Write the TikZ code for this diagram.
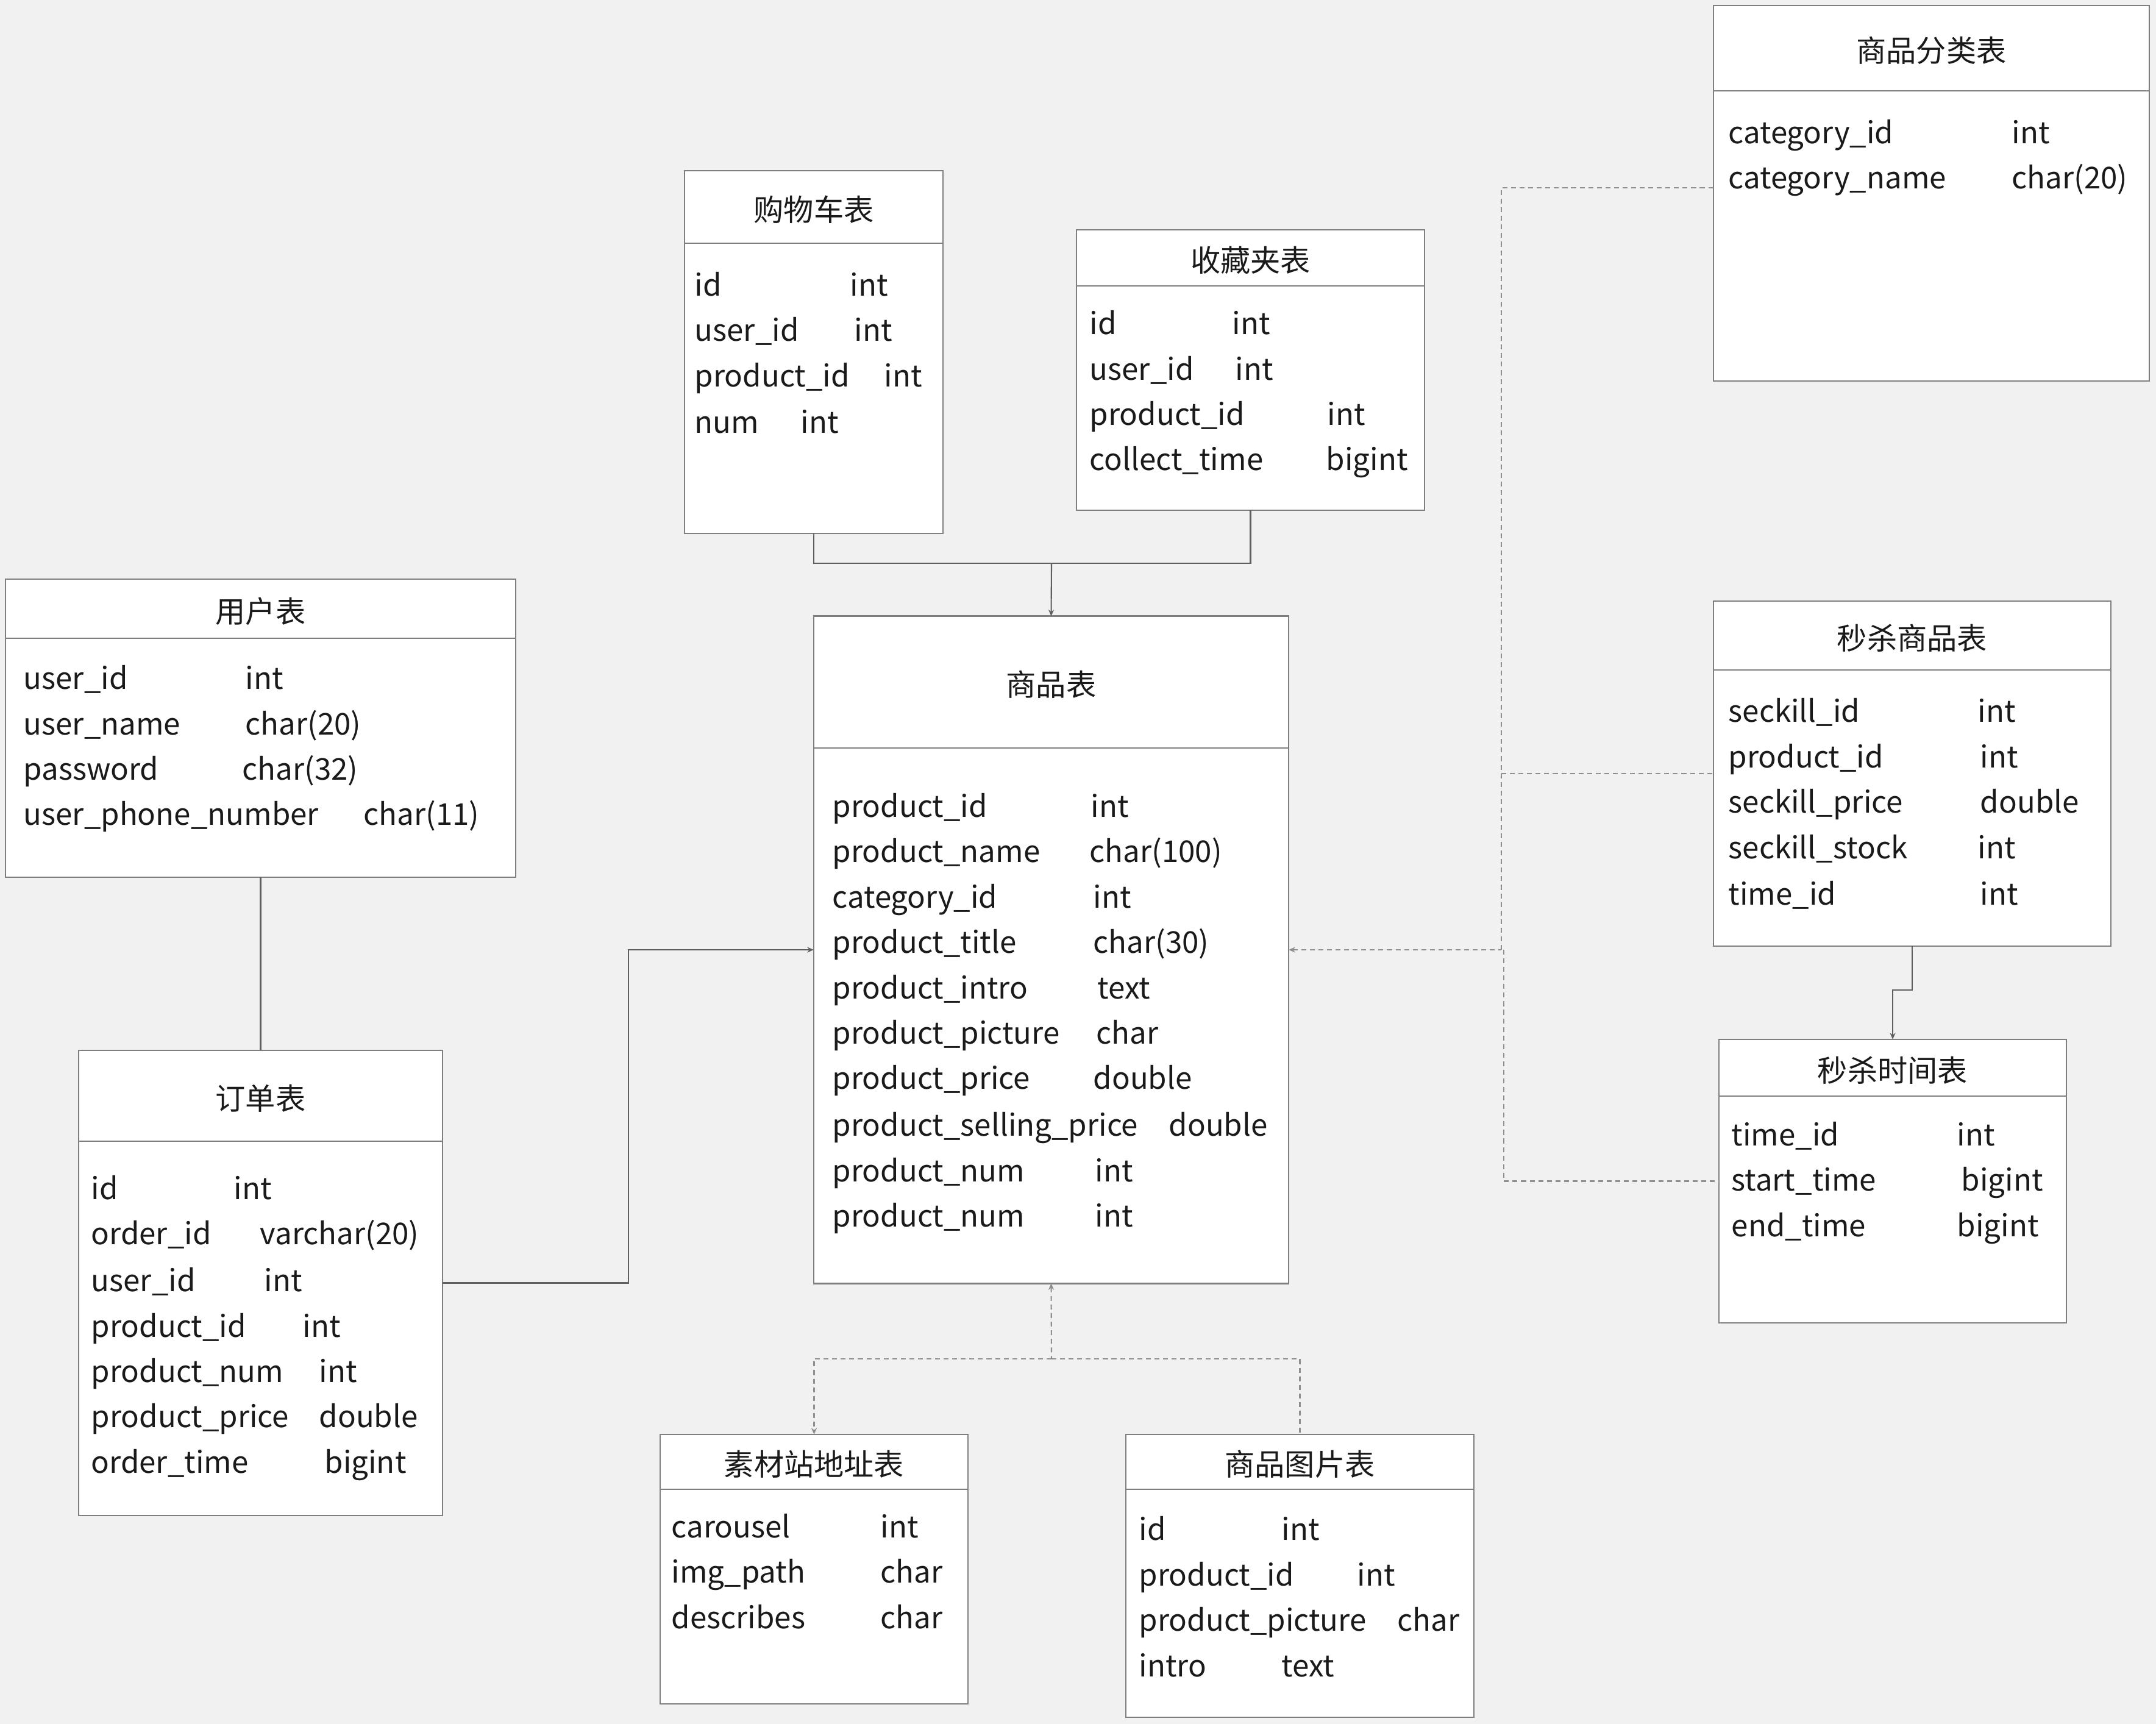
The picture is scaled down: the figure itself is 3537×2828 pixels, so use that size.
\documentclass[tikz,border=0pt]{standalone}
\usepackage{fontspec}
\setmainfont{Noto Sans CJK SC}
\usetikzlibrary{arrows.meta}
\definecolor{bgc}{HTML}{F1F1F1}
\definecolor{boxc}{HTML}{7F7F7F}
\definecolor{linec}{HTML}{5F5F5F}
\definecolor{dashc}{HTML}{8F8F8F}
\definecolor{txtc}{HTML}{1A1A1A}
\tikzset{
  tbox/.style={draw=boxc, fill=white, line width=0.7pt, rectangle, inner sep=0pt, outer sep=0pt},
  tline/.style={draw=boxc, line width=0.7pt},
  ttitle/.style={text=txtc, font=\fontsize{14pt}{16pt}\selectfont, inner sep=0pt, anchor=mid, yshift=-0.13cm},
  ftext/.style={text=txtc, font=\fontsize{14pt}{16pt}\selectfont, inner sep=0pt, anchor=mid west, yshift=-0.09cm},
  conn/.style={draw=linec, line width=0.6pt},
  dconn/.style={draw=dashc, line width=0.6pt, dash pattern=on 2.3pt off 1.7pt},
  tip/.tip={Stealth[length=3pt,width=2.6pt]}
}
\newcommand\tbl[7]{%
  \node[tbox, minimum width={(#4-#2)*0.284528pt}, minimum height={(#5-#3)*0.284528pt}] (#1) at ({(#2+#4)/2},{(#3+#5)/2}) {};
  \draw[tline] (#2,#6) -- (#4,#6);
  \node[ttitle] (#1-title) at ({(#2+#4)/2},{(#3+#6)/2}) {#7};
}
\newcommand\fld[6]{%
  \node[ftext] (#1n) at (#3,#2) {#4};
  \node[ftext] (#1t) at (#5,#2) {#6};
}
\begin{document}
\begin{tikzpicture}[x=0.01cm, y=-0.01cm]
\useasboundingbox (0,0) rectangle (3537,2828);
\fill[bgc] (0,0) rectangle (3537,2828);

% tables
\tbl{cat}{2811}{9}{3526}{625}{149}{商品分类表}
\fld{cat1}{217}{2835}{category\_id}{3300}{int}
\fld{cat2}{291}{2835}{category\_name}{3300}{char(20)}

\tbl{cart}{1123}{280}{1547}{875}{399}{购物车表}
\fld{cart1}{467}{1139}{id}{1394}{int}
\fld{cart2}{541}{1139}{user\_id}{1401}{int}
\fld{cart3}{616}{1139}{product\_id}{1450}{int}
\fld{cart4}{692}{1139}{num}{1313}{int}

\tbl{fav}{1766}{377}{2337}{837}{469}{收藏夹表}
\fld{fav1}{530}{1787}{id}{2021}{int}
\fld{fav2}{605}{1787}{user\_id}{2026}{int}
\fld{fav3}{679}{1787}{product\_id}{2177}{int}
\fld{fav4}{753}{1787}{collect\_time}{2175}{bigint}

\tbl{user}{9}{950}{846}{1439}{1047}{用户表}
\fld{user1}{1112}{38}{user\_id}{402}{int}
\fld{user2}{1187}{38}{user\_name}{402}{char(20)}
\fld{user3}{1261}{38}{password}{397}{char(32)}
\fld{user4}{1335}{38}{user\_phone\_number}{596}{char(11)}

\tbl{order}{129}{1723}{726}{2486}{1872}{订单表}
\fld{ord1}{1949}{149}{id}{383}{int}
\fld{ord2}{2023}{149}{order\_id}{426}{varchar(20)}
\fld{ord3}{2100}{149}{user\_id}{433}{int}
\fld{ord4}{2175}{149}{product\_id}{496}{int}
\fld{ord5}{2249}{149}{product\_num}{523}{int}
\fld{ord6}{2323}{149}{product\_price}{523}{double}
\fld{ord7}{2398}{149}{order\_time}{532}{bigint}

\tbl{prod}{1335}{1011}{2114}{2105}{1227}{商品表}
\fld{prod1}{1322}{1365}{product\_id}{1789}{int}
\fld{prod2}{1396}{1365}{product\_name}{1787}{char(100)}
\fld{prod3}{1471}{1365}{category\_id}{1793}{int}
\fld{prod4}{1545}{1365}{product\_title}{1793}{char(30)}
\fld{prod5}{1620}{1365}{product\_intro}{1800}{text}
\fld{prod6}{1694}{1365}{product\_picture}{1798}{char}
\fld{prod7}{1768}{1365}{product\_price}{1793}{double}
\fld{prod8}{1845}{1365}{product\_selling\_price}{1917}{double}
\fld{prod9}{1920}{1365}{product\_num}{1796}{int}
\fld{prod10}{1994}{1365}{product\_num}{1796}{int}

\tbl{seck}{2811}{986}{3463}{1552}{1099}{秒杀商品表}
\fld{seck1}{1166}{2835}{seckill\_id}{3244}{int}
\fld{seck2}{1241}{2835}{product\_id}{3248}{int}
\fld{seck3}{1315}{2835}{seckill\_price}{3248}{double}
\fld{seck4}{1390}{2835}{seckill\_stock}{3244}{int}
\fld{seck5}{1466}{2835}{time\_id}{3248}{int}

\tbl{time}{2820}{1705}{3390}{2170}{1798}{秒杀时间表}
\fld{time1}{1861}{2840}{time\_id}{3210}{int}
\fld{time2}{1935}{2840}{start\_time}{3217}{bigint}
\fld{time3}{2010}{2840}{end\_time}{3210}{bigint}

\tbl{mat}{1083}{2353}{1588}{2795}{2443}{素材站地址表}
\fld{mat1}{2504}{1101}{carousel}{1444}{int}
\fld{mat2}{2578}{1101}{img\_path}{1444}{char}
\fld{mat3}{2653}{1101}{describes}{1444}{char}

\tbl{pic}{1847}{2353}{2418}{2817}{2443}{商品图片表}
\fld{pic1}{2508}{1868}{id}{2102}{int}
\fld{pic2}{2583}{1868}{product\_id}{2226}{int}
\fld{pic3}{2657}{1868}{product\_picture}{2292}{char}
\fld{pic4}{2732}{1868}{intro}{2102}{text}

% connectors
\draw[conn] (user.south) -- (order.north);
\draw[conn, -tip] (order.east) -- ++(305,0) |- (prod.west);

\coordinate (j1) at (1725,924);
\draw[conn] (cart.south) |- (j1);
\draw[conn] (fav.south) |- (j1);
\draw[conn, -tip] (j1) -- (prod.north);

\coordinate (j2) at (2463,1558);
\coordinate (j3) at (2467,1558);
\draw[dconn, tip-] (prod.east) -- (j2);
\draw[dconn] (j2) |- ([yshift=0.09cm]cat.west);
\draw[dconn] (j2 |- seck.west) -- (seck.west);
\draw[dconn] (j3) |- (time.west);

\coordinate (j4) at (1725,2229);
\draw[dconn, tip-] (prod.south) -- (j4);
\draw[dconn, -tip] (j4) -| (mat.north);
\draw[dconn] (j4) -| (pic.north);

\draw[conn, -tip] (seck.south) -- ++(0,72) -| (time.north);
\end{tikzpicture}
\end{document}
